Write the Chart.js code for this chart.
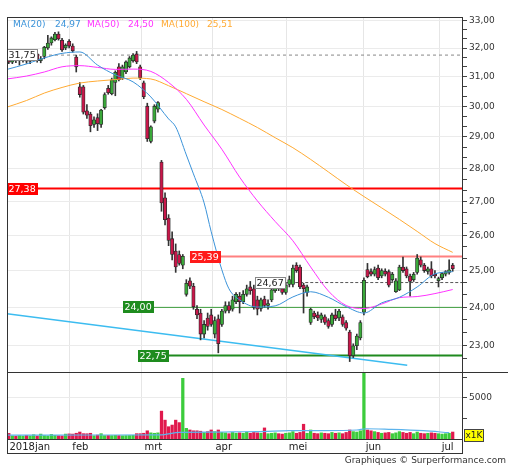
<!DOCTYPE html>
<html>
<head>
<meta charset="utf-8">
<script src="https://cdn.jsdelivr.net/npm/chart.js"></script>
<style>
  html, body { margin: 0; padding: 0; background: #fff; }
  #wrap { position: relative; width: 512px; height: 470px; overflow: hidden; }
  canvas { position: absolute; left: 0; }
  #price { top: 0; }
  #vol { top: 362px; }
</style>
</head>
<body>
<div id="wrap">
  <canvas id="price" width="512" height="380"></canvas>
  <canvas id="vol" width="512" height="108"></canvas>
</div>
<script>
// Koers + volume, jan - jul 2018. Waarden.

const monthPos = [-0.5, 17.2, 37.5, 57.5, 78.1, 99.8, 121.2];
const monthLabels = ['2018jan', 'feb', 'mrt', 'apr', 'mei', 'jun', 'jul'];
const priceLabels = [23, 24, 25, 26, 27, 28, 29, 30, 31, 32, 33];
const volTicks = [2500, 5000, 7500];

const opens = [
  31.55, 31.50, 31.62, 31.55, 31.60, 31.68, 31.54, 31.63, 31.79, 31.55,
  31.70, 32.00, 32.18, 32.30, 32.50, 32.28, 32.00, 32.24, 32.07, 31.68,
  30.65, 30.65, 29.85, 29.74, 29.40, 29.62, 29.40, 29.95, 30.60, 30.42,
  30.80, 31.34, 30.95, 31.16, 31.34, 31.55, 31.79, 31.34, 30.79, 30.00,
  28.85, 29.51, 29.90, 28.20, 27.10, 26.50, 25.90, 25.55, 25.45, 25.15,
  24.35, 24.72, 24.57, 23.95, 23.85, 23.30, 23.72, 23.80, 23.30, 23.70,
  23.55, 23.90, 24.05, 23.95, 24.15, 24.30, 24.15, 24.35, 24.55, 24.50,
  24.20, 23.97, 24.22, 24.05, 24.20, 24.45, 24.70, 24.50, 24.40, 24.62,
  24.62, 25.15, 25.10, 24.60, 24.40, 23.60, 23.85, 23.80, 23.68, 23.75,
  23.65, 23.55, 23.80, 23.72, 23.75, 23.60, 23.35, 22.75, 23.00, 23.20,
  23.87, 25.03, 24.97, 24.90, 25.07, 24.85, 24.98, 24.97, 24.75, 24.42,
  24.47, 25.10, 25.05, 24.85, 24.75, 24.95, 25.30, 25.15, 24.98, 25.05,
  24.90, 24.72, 24.80, 24.90, 24.95, 25.15
];
const highs = [
  31.62, 31.70, 31.72, 31.68, 31.76, 31.74, 31.70, 31.82, 31.86, 31.70,
  32.06, 32.45, 32.40, 32.56, 32.58, 32.35, 32.15, 32.30, 32.15, 31.75,
  30.80, 30.70, 30.05, 29.80, 29.65, 29.75, 29.90, 30.45, 30.70, 30.95,
  31.20, 31.45, 31.40, 31.55, 31.70, 31.80, 31.88, 31.40, 30.85, 30.10,
  29.35, 30.05, 30.15, 28.25, 27.25, 26.60, 26.10, 25.75, 25.55, 25.45,
  24.75, 24.80, 24.65, 24.05, 23.95, 23.65, 23.85, 23.95, 23.75, 23.80,
  23.95, 24.15, 24.15, 24.30, 24.40, 24.40, 24.45, 24.60, 24.70, 24.60,
  24.30, 24.25, 24.30, 24.20, 24.50, 24.70, 24.75, 24.55, 24.65, 24.85,
  25.15, 25.22, 25.15, 24.65, 24.60, 23.98, 23.90, 23.88, 23.85, 23.80,
  23.70, 23.85, 23.95, 23.95, 23.80, 23.65, 23.40, 23.05, 23.30, 23.65,
  24.80, 25.20, 25.05, 25.10, 25.15, 25.05, 25.05, 25.02, 24.95, 24.78,
  25.15, 25.38, 25.10, 24.90, 24.95, 25.45, 25.38, 25.20, 25.10, 25.25,
  25.00, 24.82, 24.95, 25.00, 25.30, 25.20
];
const lows = [
  31.45, 31.45, 31.48, 31.40, 31.50, 31.46, 31.45, 31.55, 31.50, 31.48,
  31.62, 31.95, 32.10, 32.25, 32.28, 31.88, 31.94, 32.00, 31.85, 31.16,
  30.30, 29.74, 29.60, 29.16, 29.30, 29.20, 29.30, 29.90, 30.40, 30.38,
  30.35, 30.85, 30.90, 31.10, 31.30, 31.50, 31.45, 30.90, 30.25, 28.85,
  28.80, 29.45, 29.80, 26.70, 26.30, 25.70, 25.30, 24.95, 25.15, 25.05,
  24.30, 24.50, 23.95, 23.70, 23.15, 23.20, 23.40, 23.50, 23.20, 22.82,
  23.50, 23.85, 23.85, 23.90, 24.10, 23.85, 24.10, 24.30, 24.35, 23.95,
  23.80, 23.90, 24.00, 23.95, 24.15, 24.40, 24.45, 24.35, 24.35, 24.55,
  24.55, 24.95, 24.50, 23.85, 24.30, 23.55, 23.70, 23.65, 23.60, 23.55,
  23.45, 23.50, 23.65, 23.65, 23.50, 23.40, 22.60, 22.70, 22.90, 23.15,
  23.80, 24.80, 24.85, 24.85, 24.75, 24.80, 24.85, 24.55, 24.70, 24.40,
  24.45, 24.95, 24.80, 24.30, 24.70, 24.90, 25.10, 24.95, 24.90, 24.80,
  24.80, 24.55, 24.75, 24.85, 24.90, 24.98
];
const closes = [
  31.50, 31.62, 31.55, 31.60, 31.68, 31.54, 31.63, 31.74, 31.55, 31.62,
  32.03, 32.18, 32.36, 32.50, 32.32, 31.93, 32.10, 32.07, 31.90, 31.34,
  30.39, 29.80, 29.70, 29.36, 29.55, 29.42, 29.87, 30.39, 30.45, 30.89,
  31.15, 30.90, 31.34, 31.51, 31.65, 31.75, 31.51, 30.96, 30.32, 28.94,
  29.32, 30.00, 30.12, 26.95, 26.45, 25.85, 25.45, 25.10, 25.20, 25.40,
  24.65, 24.57, 24.02, 23.80, 23.30, 23.55, 23.50, 23.55, 23.65, 23.05,
  23.90, 24.05, 23.92, 24.20, 24.35, 24.15, 24.35, 24.50, 24.45, 24.00,
  23.95, 24.20, 24.05, 24.10, 24.47, 24.60, 24.50, 24.40, 24.60, 24.75,
  25.07, 25.00, 24.55, 24.50, 24.55, 23.95, 23.75, 23.72, 23.80, 23.60,
  23.50, 23.80, 23.70, 23.90, 23.55, 23.45, 22.75, 23.00, 23.25, 23.60,
  24.73, 24.83, 24.90, 25.03, 24.80, 25.00, 24.90, 24.60, 24.90, 24.72,
  25.10, 25.00, 24.85, 24.70, 24.90, 25.35, 25.15, 25.00, 25.05, 24.85,
  24.85, 24.78, 24.92, 24.97, 25.02, 25.05
];
const volumes = [
  680, 380, 350, 420, 360, 450, 380, 520, 360, 600,
  420, 380, 560, 450, 400, 380, 600, 620, 600, 700,
  850, 650, 640, 700, 400, 480, 650, 420, 430, 420,
  450, 420, 400, 420, 430, 450, 650, 650, 700, 1000,
  750, 700, 750, 3400, 2300, 1500, 1700, 2300, 2000, 7400,
  1300, 1100, 1000, 1000, 950, 800, 900, 1100, 900, 1100,
  800, 750, 650, 800, 700, 750, 700, 850, 700, 800,
  750, 700, 1350, 650, 700, 750, 650, 600, 700, 750,
  900, 700, 800, 1800, 700, 1100, 700, 650, 750, 700,
  650, 800, 700, 750, 650, 800, 1100, 900, 850, 1000,
  9000, 1100, 1000, 900, 800, 700, 750, 800, 650, 750,
  900, 800, 700, 800, 650, 850, 700, 650, 700, 750,
  700, 650, 600, 650, 700, 850
];

const ma20Idx = [-0.5, 5, 10, 15, 20, 25, 30, 35, 40, 45, 47, 50, 52, 55, 57, 60, 62, 65, 70, 75, 80, 85, 90, 95, 100, 105, 110, 115, 120, 125];
const ma20Val = [31.25, 31.44, 31.65, 31.81, 31.86, 31.40, 31.06, 30.82, 30.31, 29.58, 29.32, 28.42, 27.83, 26.95, 26.10, 25.02, 24.50, 24.20, 24.01, 24.04, 24.28, 24.42, 24.27, 24.02, 23.85, 24.12, 24.27, 24.55, 24.91, 24.97];
const maIdx = [-0.5, 5, 10, 15, 20, 25, 30, 35, 40, 45, 50, 55, 60, 65, 70, 75, 80, 85, 90, 95, 100, 105, 110, 115, 120, 125];
const ma50Val = [30.92, 31.02, 31.16, 31.34, 31.38, 31.32, 31.25, 31.26, 31.18, 30.80, 30.23, 29.38, 28.60, 27.73, 27.01, 26.40, 25.84, 25.10, 24.44, 24.05, 23.97, 24.09, 24.26, 24.29, 24.37, 24.48];
const ma100Val = [29.97, 30.19, 30.44, 30.63, 30.78, 30.85, 30.90, 30.95, 30.92, 30.69, 30.42, 30.15, 29.89, 29.60, 29.30, 28.97, 28.65, 28.28, 27.89, 27.50, 27.14, 26.80, 26.46, 26.11, 25.76, 25.51];
const maNames = ['MA(20)', 'MA(50)', 'MA(100)'];
const maLast = [24.97, 24.50, 25.51];

const volMaIdx = [-0.5, 25.7, 42.6, 48.2, 57.5, 63, 70, 79, 88, 98, 100.6, 107, 116.7, 124];
const volMaVal = [480, 490, 500, 820, 830, 880, 890, 1010, 1020, 1100, 1250, 1180, 1010, 770];

// horizontale niveaus en steunlijn
const levelVals = [31.75, 27.38, 25.39, 24.67, 24.00, 22.75];
const levelStart = [-0.5, -0.5, 51.0, 69.4, 32.2, 36.4];
const trendIdx = [-0.5, 112.2];
const trendVal = [23.83, 22.51];

const X_MIN = -0.5, X_MAX = 127.9;
const FONT = '"DejaVu Sans", Verdana, sans-serif';
Chart.defaults.font.family = FONT;
Chart.defaults.font.size = 9;
Chart.defaults.color = '#333';

const fmt = v => v.toFixed(2).replace('.', ',');
const idx = closes.map((_, i) => i);
const up = idx.map(i => closes[i] >= opens[i]);

const maColors = ['#3b93d9', '#ff33ff', '#ffaa33'];
const levelStyle = [
  { c: '#888', w: 1, dash: [3, 3], box: '#fff', edge: '#888', txt: '#222' },
  { c: '#ff0000', w: 2, dash: [], box: '#ff0000', txt: '#fff' },
  { c: '#ff8080', w: 2, dash: [], box: '#ff1a1a', txt: '#fff' },
  { c: '#555', w: 1, dash: [3, 2], box: '#fff', edge: '#888', txt: '#222' },
  { c: '#3c9c3c', w: 1, dash: [], box: '#1e8c1e', txt: '#fff' },
  { c: '#1f8a1f', w: 2, dash: [], box: '#1e8c1e', txt: '#fff' }
];

const priceTicks = [];
[22].concat(priceLabels).forEach(m => {
  [0, 1 / 3, 2 / 3].forEach(f => {
    const v = m + f;
    if (v >= 22.34 && v <= 33.12) priceTicks.push(v);
  });
});

const pts = (xs, ys) => xs.map((x, k) => ({ x: x, y: ys[k] }));
const lineSet = (data, color, width, order, extra) => Object.assign({
  type: 'line', data: data, borderColor: color, borderWidth: width,
  pointRadius: 0, fill: false, order: order
}, extra || {});

const priceSets = [
  lineSet(pts(ma20Idx, ma20Val), maColors[0], 1, 1, { cubicInterpolationMode: 'monotone' }),
  lineSet(pts(maIdx, ma50Val), maColors[1], 1, 1, { cubicInterpolationMode: 'monotone' }),
  lineSet(pts(maIdx, ma100Val), maColors[2], 1, 1, { cubicInterpolationMode: 'monotone' }),
  {
    type: 'bar', order: 2, grouped: false, barThickness: 3.4, minBarLength: 1,
    data: idx.map(i => ({ x: i, y: [opens[i], closes[i]] })),
    backgroundColor: idx.map(i => up[i] ? '#3aa83a' : '#c8174a'),
    borderColor: '#2b2b2b', borderWidth: 0.8, borderSkipped: false
  },
  {
    type: 'bar', order: 3, grouped: false, barThickness: 1,
    data: idx.map(i => ({ x: i, y: [lows[i], highs[i]] })),
    backgroundColor: '#333'
  },
  lineSet(pts(trendIdx, trendVal), '#3cbcf0', 1.5, 4)
];
levelVals.forEach((v, k) => {
  const s = levelStyle[k];
  priceSets.push(lineSet([{ x: levelStart[k], y: v }, { x: X_MAX, y: v }], s.c, s.w, 4, { borderDash: s.dash }));
});

const priceDecor = {
  id: 'priceDecor',
  afterDatasetsDraw(chart) {
    const { ctx, chartArea: a, scales: { x, y } } = chart;
    ctx.save();
    ctx.textBaseline = 'middle';
    // labels op de niveaus
    ctx.font = '9.5px ' + FONT;
    levelVals.forEach((v, k) => {
      const s = levelStyle[k];
      const t = fmt(v);
      const x0 = Math.round(x.getPixelForValue(levelStart[k]));
      const yc = Math.round(y.getPixelForValue(v));
      const w = Math.ceil(ctx.measureText(t).width) + 3;
      ctx.fillStyle = s.box;
      ctx.fillRect(x0, yc - 6, w, 12);
      if (s.edge) {
        ctx.strokeStyle = s.edge; ctx.lineWidth = 1;
        ctx.strokeRect(x0 + 0.5, yc - 5.5, w - 1, 11);
      }
      ctx.fillStyle = s.txt;
      ctx.textAlign = 'left';
      ctx.fillText(t, x0 + 1.5, yc + 0.5);
    });
    // legenda
    ctx.font = '9px ' + FONT;
    const nameX = [13, 87, 161], valX = [55, 128, 207];
    maNames.forEach((n, k) => {
      ctx.fillStyle = maColors[k];
      ctx.fillText(n, nameX[k], 25);
      ctx.fillText(fmt(maLast[k]), valX[k], 25);
    });
    // kader
    ctx.strokeStyle = '#333'; ctx.lineWidth = 1;
    ctx.strokeRect(a.left + 0.5, a.top + 0.5, a.right - a.left - 1, a.bottom - a.top);
    ctx.restore();
  }
};

new Chart(document.getElementById('price'), {
  type: 'bar',
  data: { datasets: priceSets },
  options: {
    responsive: false, animation: false, events: [],
    layout: { padding: { left: 7, top: 17, right: 0, bottom: 8 } },
    plugins: { legend: { display: false }, tooltip: { enabled: false } },
    scales: {
      x: {
        type: 'linear', min: X_MIN, max: X_MAX, offset: false,
        ticks: { display: false },
        grid: { color: '#e6e6e6', drawTicks: false, offset: false },
        border: { display: false },
        afterBuildTicks: s => { s.ticks = monthPos.map(v => ({ value: v })); },
        afterFit: s => { s.height = 0; }
      },
      y: {
        type: 'logarithmic', position: 'right', min: 22.34, max: 33.12,
        afterBuildTicks: s => { s.ticks = priceTicks.map(v => ({ value: v })); },
        afterFit: s => { s.width = 49; },
        ticks: {
          autoSkip: false, padding: 2, color: '#333', font: { size: 9 },
          callback: v => Math.abs(v - Math.round(v)) < 1e-6 ? fmt(v) : ''
        },
        grid: {
          color: c => (c.tick && Math.abs(c.tick.value - Math.round(c.tick.value)) < 1e-6) ? '#ebebeb' : 'rgba(0,0,0,0)',
          tickColor: '#444', tickLength: 4
        },
        border: { display: false }
      }
    }
  },
  plugins: [priceDecor]
});

const volDecor = {
  id: 'volDecor',
  afterDatasetsDraw(chart) {
    const { ctx, chartArea: a } = chart;
    ctx.save();
    ctx.strokeStyle = '#333'; ctx.lineWidth = 1;
    ctx.strokeRect(a.left + 0.5, a.top + 0.5, a.right - a.left - 1, a.bottom + 14 - a.top);
    ctx.beginPath();
    ctx.moveTo(a.left, a.bottom + 0.5); ctx.lineTo(a.right, a.bottom + 0.5);
    ctx.moveTo(a.right, a.top + 0.5); ctx.lineTo(508, a.top + 0.5);
    ctx.stroke();
    // x1K
    ctx.fillStyle = '#ffff00';
    ctx.fillRect(464, 67, 20, 13);
    ctx.strokeStyle = '#444';
    ctx.strokeRect(464.5, 67.5, 19, 12);
    ctx.fillStyle = '#222';
    ctx.font = '9px ' + FONT;
    ctx.textAlign = 'center'; ctx.textBaseline = 'middle';
    ctx.fillText('x1K', 474, 74);
    // bron
    ctx.textAlign = 'right';
    ctx.fillStyle = '#333';
    ctx.fillText('Graphiques \u00A9 Surperformance.com', 506, 99);
    ctx.restore();
  }
};

new Chart(document.getElementById('vol'), {
  type: 'bar',
  data: {
    datasets: [
      lineSet(pts(volMaIdx, volMaVal), '#5cb3ec', 1.2, 1, { cubicInterpolationMode: 'monotone' }),
      {
        type: 'bar', order: 2, grouped: false, barThickness: 2.6,
        data: idx.map(i => ({ x: i, y: volumes[i] })),
        backgroundColor: idx.map(i => up[i] ? '#3ccc3c' : '#e0194d')
      }
    ]
  },
  options: {
    responsive: false, animation: false, events: [],
    layout: { padding: { left: 7, top: 10, right: 0, bottom: 17 } },
    plugins: { legend: { display: false }, tooltip: { enabled: false } },
    scales: {
      x: {
        type: 'linear', min: X_MIN, max: X_MAX, offset: false,
        afterBuildTicks: s => { s.ticks = monthPos.map(v => ({ value: v })); },
        afterFit: s => { s.height = 14; },
        ticks: {
          callback: (v, k) => monthLabels[k], align: 'start', labelOffset: 2.5,
          padding: 2, maxRotation: 0, autoSkip: false, font: { size: 10 }, color: '#222'
        },
        grid: { color: '#e6e6e6', drawTicks: false, offset: false },
        border: { display: false }
      },
      y: {
        type: 'linear', position: 'right', min: 0, max: 8170,
        afterBuildTicks: s => { s.ticks = volTicks.map(v => ({ value: v })); },
        afterFit: s => { s.width = 49; },
        ticks: { autoSkip: false, padding: 2, font: { size: 9 }, callback: v => v === 5000 ? '5000' : '' },
        grid: {
          color: c => (c.tick && c.tick.value === 5000) ? '#ebebeb' : 'rgba(0,0,0,0)',
          tickColor: '#444', tickLength: 4
        },
        border: { display: false }
      }
    }
  },
  plugins: [volDecor]
});
</script>
</body>
</html>
